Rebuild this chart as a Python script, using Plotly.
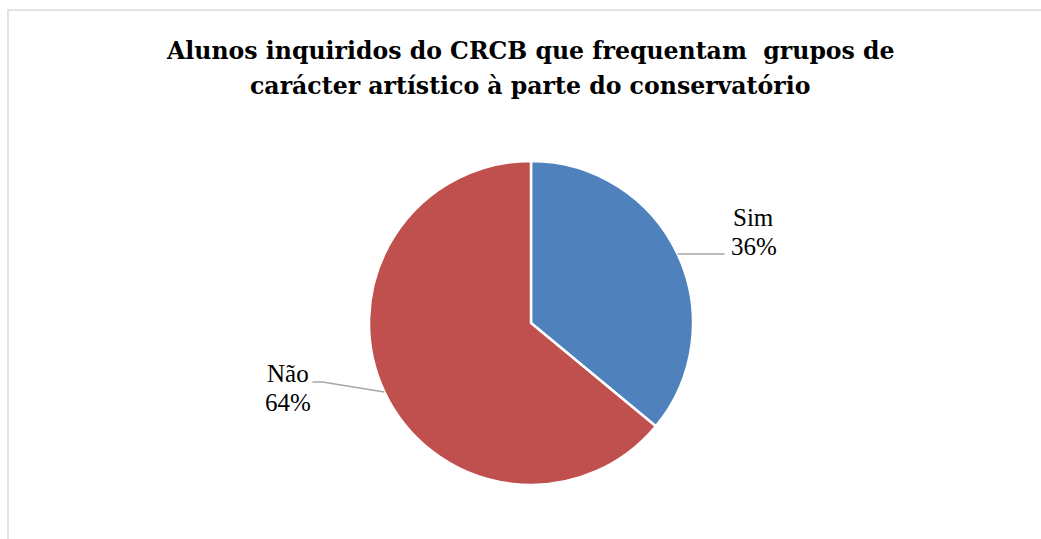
import math
import plotly.graph_objects as go

labels = ["Sim", "Não"]
values = [36, 64]
colors = ["#4F81BD", "#C0504D"]
title_lines = ["Alunos inquiridos do CRCB que frequentam  grupos de",
               "carácter artístico à parte do conservatório"]

W, H = 1041, 539
cx, cy, R = 531, 323, 162  # pixel layout of pie

fig = go.Figure(go.Pie(
    labels=labels, values=values, sort=False, direction="clockwise", rotation=0,
    marker=dict(colors=colors, line=dict(color="white", width=2.5)),
    textinfo="none", hoverinfo="label+percent", showlegend=False,
    domain=dict(x=[(cx - R) / W, (cx + R) / W], y=[1 - (cy + R) / H, 1 - (cy - R) / H]),
))

def px(x):
    return x / W

def py(y):
    return 1 - y / H

label_font = dict(family="Liberation Serif, DejaVu Serif, serif", size=25, color="#000000")
title_font = dict(family="DejaVu Serif, Liberation Serif, serif", size=23.6, color="#000000")

shapes = [dict(type="rect", xref="paper", yref="paper", x0=px(8), y0=py(10), x1=px(W + 20), y1=py(H + 20),
               line=dict(color="#D9D9D9", width=1.5), fillcolor="rgba(0,0,0,0)", layer="below")]
annotations = []
for i, t in enumerate(title_lines):
    annotations.append(dict(x=px(530), y=py(51 + 35 * i), xref="paper", yref="paper", text=f"<b>{t}</b>",
                            showarrow=False, xanchor="center", yanchor="middle", font=title_font))

total = sum(values)
cum = 0
for lab, v in zip(labels, values):
    mid = (cum + v / 2) / total * 2 * math.pi
    cum += v
    ex = cx + R * math.sin(mid)
    ey = cy - R * math.cos(mid)
    pct = f"{round(v / total * 100)}%"
    if math.sin(mid) > 0:
        lx, ly = ex + 47, ey
        path = f"M {px(ex)},{py(ey)} L {px(lx)},{py(ly)}"
        tx = lx + 29
        ys = [ly - 36.5, ly - 7.5]
    else:
        kx, ky = ex - 62, ey - 10
        lx, ly = kx - 10, ky
        path = f"M {px(ex)},{py(ey)} L {px(kx)},{py(ky)} L {px(lx)},{py(ly)}"
        tx = lx - 24
        ys = [ly - 8.5, ly + 20.5]
    shapes.append(dict(type="path", xref="paper", yref="paper", path=path,
                       line=dict(color="#A6A6A6", width=1.5)))
    for txt, yy in zip([lab, pct], ys):
        annotations.append(dict(x=px(tx), y=py(yy), xref="paper", yref="paper", text=txt,
                                showarrow=False, xanchor="center", yanchor="middle",
                                font=label_font))

fig.update_layout(
    width=W, height=H, margin=dict(l=0, r=0, t=0, b=0),
    paper_bgcolor="white", plot_bgcolor="white",
    shapes=shapes, annotations=annotations,
)

fig.write_html("out.html")
